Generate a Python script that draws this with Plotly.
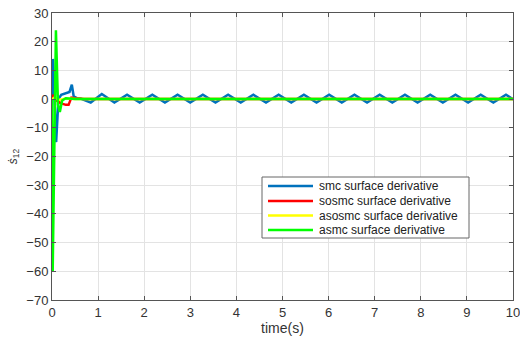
import plotly.graph_objects as go

# smc surface derivative
smc_t = [0, 0.02, 0.09, 0.14, 0.2, 0.3, 0.38, 0.43, 0.47, 0.55, 0.62, 0.84,
         1.08, 1.354, 1.628, 1.902, 2.176, 2.45, 2.724, 2.998, 3.272, 3.546, 3.82, 4.094,
         4.368, 4.642, 4.916, 5.19, 5.464, 5.738, 6.012, 6.286, 6.56, 6.834, 7.108, 7.382,
         7.656, 7.93, 8.204, 8.478, 8.752, 9.026, 9.30, 9.574, 9.848, 10.0]
smc_v = [0, 14, -15, 0, 1.5, 2, 2.5, 5, 1, 0.3, 0.2, -1.2,
         1.8, -1.2, 1.5, -1.2, 1.5, -1.2, 1.5, -1.2, 1.5, -1.2, 1.5, -1.2,
         1.5, -1.2, 1.5, -1.2, 1.5, -1.2, 1.5, -1.2, 1.5, -1.2, 1.5, -1.2,
         1.5, -1.2, 1.5, -1.2, 1.5, -1.2, 1.5, -1.2, 1.5, 0.0]

# sosmc surface derivative
sosmc_t = [0, 0.03, 0.06, 0.1, 0.2, 0.3, 0.36, 0.42, 0.5, 0.7, 10.0]
sosmc_v = [0, 1.5, 0.5, -0.5, -1.5, -2, -2, 0.5, 0.3, 0, 0]

# asosmc surface derivative
asosmc_t = [0, 0.05, 0.15, 0.3, 0.5, 10.0]
asosmc_v = [0, 0.5, -0.3, 0.2, 0, 0]

# asmc surface derivative
asmc_t = [0, 0.015, 0.085, 0.13, 0.17, 0.22, 0.3, 0.5, 10.0]
asmc_v = [0, -60, 24, -2, -4.5, -0.5, 0.3, 0, 0]

x_ticks = [0, 1, 2, 3, 4, 5, 6, 7, 8, 9, 10]
y_ticks = [30, 20, 10, 0, -10, -20, -30, -40, -50, -60, -70]

names = ["smc surface derivative", "sosmc surface derivative",
         "asosmc surface derivative", "asmc surface derivative"]
colors = ["#0072BD", "#FF0000", "#FFFF00", "#00FF00"]
series_t = [smc_t, sosmc_t, asosmc_t, asmc_t]
series_v = [smc_v, sosmc_v, asosmc_v, asmc_v]

W, H = 520, 341
L, R, T, B = 52, 7, 13, 41
pw, ph = W - L - R, H - T - B


def px_x(p):
    return (p - L) / pw


def px_y(p):
    return (H - B - p) / ph


fig = go.Figure()
for name, t, v, c in zip(names, series_t, series_v, colors):
    fig.add_trace(go.Scatter(x=t, y=v, mode="lines", name=name,
                             line=dict(color=c, width=2.5), showlegend=False))

# custom compact legend (box, line samples, labels)
shapes = [dict(type="rect", xref="paper", yref="paper",
               x0=px_x(262), x1=px_x(469), y0=px_y(238), y1=px_y(177),
               line=dict(color="#666666", width=1), fillcolor="white", layer="above")]
annotations = []
item_y = [186, 201, 215.5, 230]
for name, c, yy in zip(names, colors, item_y):
    shapes.append(dict(type="line", xref="paper", yref="paper",
                       x0=px_x(268), x1=px_x(313), y0=px_y(yy), y1=px_y(yy),
                       line=dict(color=c, width=2.5), layer="above"))
    annotations.append(dict(text=name, xref="paper", yref="paper",
                            x=px_x(317), y=px_y(yy), xanchor="left", yanchor="middle",
                            showarrow=False,
                            font=dict(family="Liberation Sans, Arial", size=12, color="#222222")))

axis_common = dict(showgrid=True, gridcolor="#e3e3e3", gridwidth=1,
                   showline=True, linecolor="#555555", linewidth=1, mirror="ticks",
                   ticks="inside", ticklen=4, tickcolor="#555555",
                   tickfont=dict(family="Liberation Sans, Arial", size=13, color="#333333"),
                   ticklabeloverflow="allow",
                   zeroline=False)

fig.update_layout(
    width=W, height=H,
    margin=dict(l=L, r=R, t=T, b=B, autoexpand=False),
    paper_bgcolor="white", plot_bgcolor="white",
    font=dict(family="Liberation Sans, Arial", color="#333333"),
    xaxis=dict(range=[0, 10], tickvals=x_ticks,
               title=dict(text="time(s)", font=dict(size=14), standoff=3),
               **axis_common),
    yaxis=dict(range=[-70, 30], tickvals=y_ticks,
               title=dict(text="<i>ṡ</i><sub>12</sub>", font=dict(size=12), standoff=6),
               **axis_common),
    shapes=shapes,
    annotations=annotations,
    showlegend=False,
)

fig.write_html("out.html")
